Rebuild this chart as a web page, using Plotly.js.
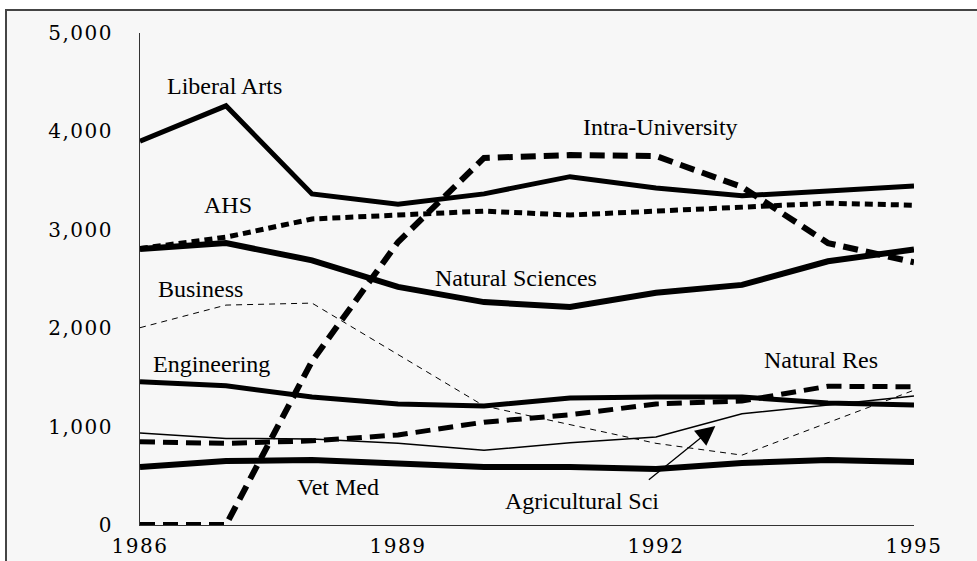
<!DOCTYPE html>
<html>
<head>
<meta charset="utf-8">
<script src="https://cdn.plot.ly/plotly-3.0.1.min.js"></script>
<style>
  html, body { margin: 0; padding: 0; background: #ffffff; }
  #wrap { position: absolute; left: 5px; top: 9px; width: 970px; height: 550px;
          border-left: 2px solid #444; border-top: 2px solid #444; background: #f7f7f7; }
  #chart { width: 970px; height: 550px; }
  .xtick text, .ytick text { letter-spacing: 1.5px; }
</style>
</head>
<body>
<div id="wrap"><div id="chart"></div></div>
<script>
const years = [1986, 1987, 1988, 1989, 1990, 1991, 1992, 1993, 1994, 1995];
const liberalArts     = [3900, 4260, 3365, 3260, 3365, 3540, 3425, 3345, 3395, 3445];
const ahs             = [2810, 2925, 3110, 3150, 3190, 3150, 3190, 3220, 3270, 3250];
const naturalSciences = [2805, 2865, 2690, 2420, 2265, 2215, 2360, 2440, 2680, 2800];
const intraUniversity = [0, 0, 1665, 2875, 3730, 3760, 3750, 3435, 2865, 2670];
const business        = [2005, 2235, 2255, 1730, 1210, 1020, 830, 710, 1040, 1370];
const engineering     = [1455, 1415, 1300, 1230, 1210, 1290, 1300, 1300, 1240, 1220];
const naturalRes      = [845, 830, 855, 915, 1045, 1120, 1230, 1260, 1410, 1405];
const agriculturalSci = [935, 880, 875, 830, 760, 835, 895, 1130, 1220, 1310];
const vetMed          = [590, 650, 660, 620, 590, 590, 570, 630, 660, 640];

const yTicks = [0, 1000, 2000, 3000, 4000, 5000];
const xTicks = [1986, 1989, 1992, 1995];

function tr(name, y, width, dash) {
  return { x: years, y: y, name: name, type: 'scatter', mode: 'lines',
           line: { color: '#000', width: width, dash: dash || 'solid' },
           hoverinfo: 'skip', cliponaxis: false };
}

const data = [
  tr('Business', business, 1, '6px,5px'),
  tr('Agricultural Sci', agriculturalSci, 1.5),
  tr('Vet Med', vetMed, 6),
  tr('Engineering', engineering, 5),
  tr('Natural Res', naturalRes, 5, '15px,8px'),
  tr('Natural Sciences', naturalSciences, 6),
  tr('AHS', ahs, 5, '8px,5px'),
  tr('Liberal Arts', liberalArts, 5),
  tr('Intra-University', intraUniversity, 6, '15px,8px')
];

const labelFont = { family: 'Liberation Serif, Times New Roman, serif', size: 24, color: '#000' };
function lab(text, x, y) {
  return { text: text, x: x, y: y, xref: 'x', yref: 'y', showarrow: false,
           xanchor: 'center', yanchor: 'middle', font: labelFont };
}

const annotations = [
  lab('Liberal Arts', 1986.98, 4460),
  lab('AHS', 1987.02, 3250),
  lab('Business', 1986.70, 2400),
  lab('Engineering', 1986.83, 1640),
  lab('Vet Med', 1988.30, 385),
  lab('Natural Sciences', 1990.37, 2510),
  lab('Intra-University', 1992.05, 4040),
  lab('Natural Res', 1993.92, 1675),
  lab('Agricultural Sci', 1991.14, 240),
  { text: '', x: 1992.69, y: 1006, xref: 'x', yref: 'y', showarrow: true,
    ax: -68, ay: 55, arrowhead: 2, arrowsize: 3, arrowwidth: 1.3, arrowcolor: '#000', standoff: 0 }
];

const tickFont = { family: 'DejaVu Serif, serif', size: 20, color: '#000' };

const layout = {
  width: 970, height: 550,
  margin: { l: 133, r: 63, t: 22, b: 36 },
  paper_bgcolor: '#f7f7f7', plot_bgcolor: '#f7f7f7',
  showlegend: false,
  xaxis: { range: [1986, 1995], tickvals: xTicks, ticktext: xTicks.map(String),
           showgrid: false, zeroline: false, showline: true, linecolor: '#333', linewidth: 1,
           ticks: '', ticklabelstandoff: 3, tickfont: tickFont },
  yaxis: { range: [0, 5000], tickvals: yTicks, ticktext: yTicks.map(v => v.toLocaleString('en-US')),
           showgrid: false, zeroline: false, showline: true, linecolor: '#333', linewidth: 1,
           ticks: '', ticklabelstandoff: 22, tickfont: tickFont },
  annotations: annotations
};

Plotly.newPlot('chart', data, layout, { displayModeBar: false, staticPlot: true });
</script>
</body>
</html>
